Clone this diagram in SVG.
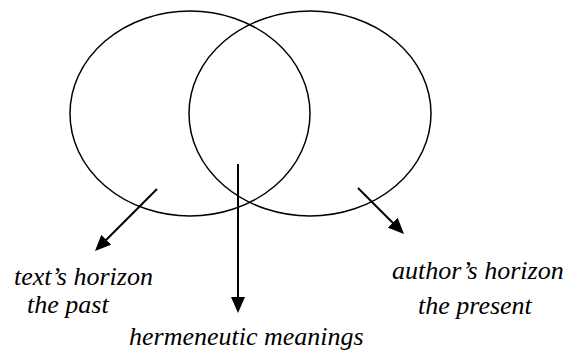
<svg xmlns="http://www.w3.org/2000/svg" width="570" height="352" viewBox="0 0 570 352">
<defs>
<marker id="ah" markerUnits="userSpaceOnUse" markerWidth="16" markerHeight="14" refX="12" refY="7" orient="auto">
<path d="M0,0 L16,7 L0,14 z" fill="#000"/>
</marker>
</defs>
<rect width="570" height="352" fill="#fff"/>
<g id="text-horizon-circle"><ellipse cx="190" cy="113.5" rx="120" ry="102.5" fill="none" stroke="#000" stroke-width="1.5"/></g>
<g id="author-horizon-circle"><ellipse cx="310" cy="113.5" rx="121" ry="102.5" fill="none" stroke="#000" stroke-width="1.5"/></g>
<g id="connectors" stroke="#000" stroke-width="2" fill="none">
<line x1="157" y1="189" x2="97.8" y2="248.2" marker-end="url(#ah)"/>
<line x1="238" y1="164" x2="238" y2="309" marker-end="url(#ah)"/>
<line x1="358" y1="188" x2="401.2" y2="231.2" marker-end="url(#ah)"/>
</g>
<text id="text-horizon-label" x="14" y="285" font-family="Liberation Serif" font-style="italic" font-size="26">text’s horizon</text>
<text id="text-horizon-sub" x="27" y="313" font-family="Liberation Serif" font-style="italic" font-size="26">the past</text>
<text id="hermeneutic-label" x="129" y="345" font-family="Liberation Serif" font-style="italic" font-size="26">hermeneutic meanings</text>
<text id="author-horizon-label" x="392" y="279" font-family="Liberation Serif" font-style="italic" font-size="26">author’s horizon</text>
<text id="author-horizon-sub" x="418" y="314" font-family="Liberation Serif" font-style="italic" font-size="26">the present</text>
</svg>
